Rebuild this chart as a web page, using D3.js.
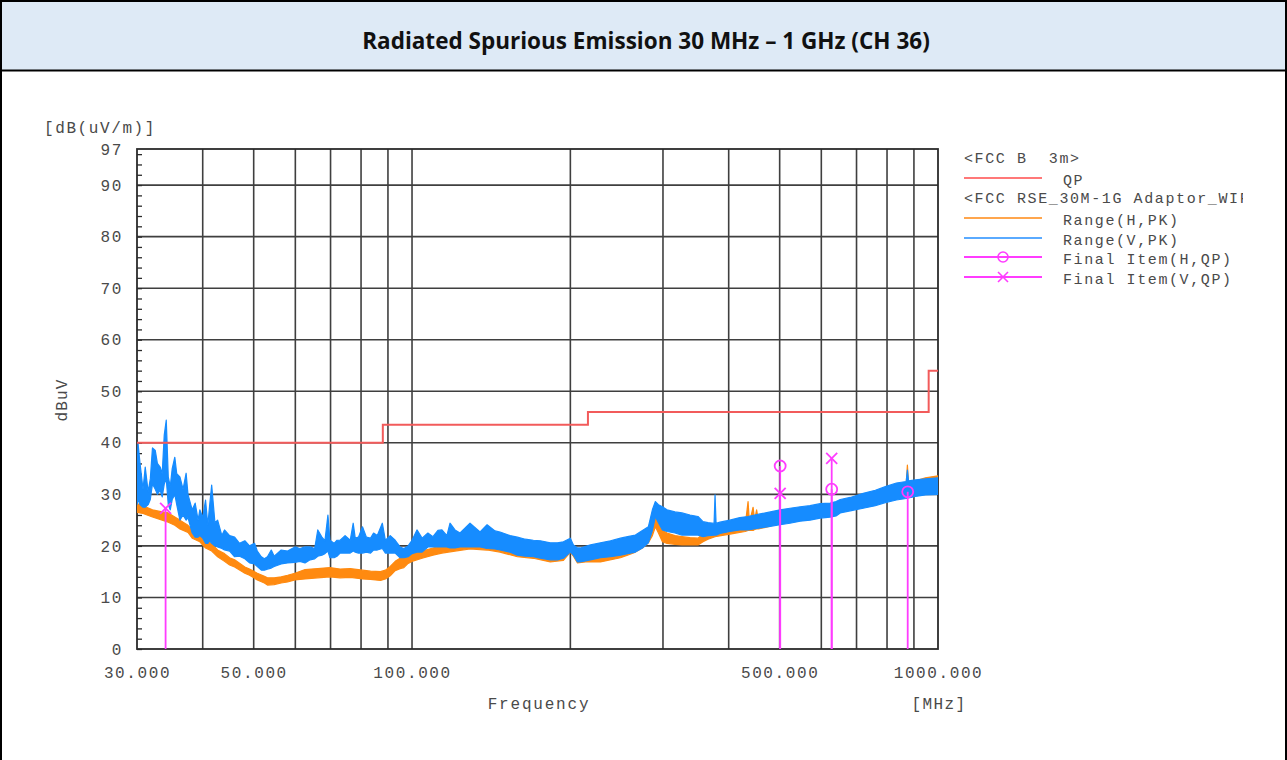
<!DOCTYPE html>
<html><head><meta charset="utf-8">
<script src="https://cdn.jsdelivr.net/npm/d3@7"></script>
<style>
body{margin:0;background:#fff}
svg text{white-space:pre}
</style>
</head><body>
<svg id="c" width="1287" height="760"></svg>
<script>
// ---------------- DATA ----------------
const titleText = "Radiated Spurious Emission 30 MHz \u2013 1 GHz (CH 36)";
const yMajorTicks = [0,10,20,30,40,50,60,70,80,90,97];
const xGridFreq = [40,50,60,70,80,90,100,200,300,400,500,600,700,800,900];
const xTickLabels = [30,50,100,500,1000];

// FCC B 3m QP limit (step)
const limitFreq = [30, 88, 216, 960, 1000];
const limitQP   = [40, 43.5, 46, 54, 54];

// Range(H,PK) - orange trace, band low/high
const hFreq = [30,30.8,32.1,33.5,34.4,35.4,36.2,37.5,38.2,39.5,40.5,41.6,42.7,44.0,45.0,46.0,48.1,49.1,50.8,52.4,53.1,54.7,56.4,58.0,59.9,62.6,66.2,69.8,73.0,76.3,80.5,83.4,87.1,89.0,90.9,92.9,94.9,96.5,98.3,100,104.5,109.6,114,120.7,128.9,138.9,147,158.6,170.1,183.2,194,200,202.7,206.3,213.7,228.2,249.1,256.9,265.9,274.2,281.4,286.4,290.2,294.1,299.3,305.3,316.2,326,337.7,349.7,357.5,365.4,376.8,402.4,430,435.4,438,445.1,448,452,456,470,501.1,547,597,624,651.9,720.8,794,870,874.6,879,946.5,1000];
const hLo = [26.5,26.3,25.6,25.0,24.6,24.0,23.3,22.6,21.5,20.8,19.6,19.0,17.9,17.0,16.3,15.9,14.7,14.3,13.4,12.8,12.4,12.5,12.8,13.0,13.4,13.6,13.8,14.0,13.8,13.9,13.6,13.5,13.3,13.6,14.2,15.2,15.6,15.8,16.6,17.0,17.6,18.2,18.6,19.0,19.4,19.2,18.8,17.9,17.6,16.9,17.2,18.8,18.0,16.7,16.9,16.9,17.7,18.2,18.8,19.6,20.6,22.0,23.7,22.5,20.8,20.5,20.3,20.2,20.2,20.2,20.8,21.3,21.8,22.3,22.8,23.0,23.0,23.0,23.2,23.3,23.3,23.6,24.4,25.0,25.6,26.2,27.0,28.0,29.0,29.8,30.0,30.0,30.8,31.0];
const hHi = [28.2,27.8,27.0,26.6,26.4,25.6,25.0,24.0,23.1,22.3,21.1,20.4,19.2,18.5,17.7,17.3,15.9,15.5,14.7,14.1,13.8,13.8,14.0,14.3,14.7,15.4,15.6,15.8,15.5,15.6,15.3,15.1,15.0,15.3,16.0,17.0,17.6,18.6,18.3,18.6,19.0,19.6,20.0,20.4,20.6,20.4,20.2,19.2,18.8,18.2,18.6,19.8,19.2,18.2,18.2,18.2,18.8,19.6,20.2,21.2,23.1,24.8,26.4,25.0,23.1,22.5,22.0,21.8,21.6,21.5,22.3,22.8,22.8,23.6,24.0,28.6,24.5,27.5,25.0,27.0,24.6,25.2,26.4,27.0,27.6,28.0,28.6,30.0,31.0,32.0,35.7,32.2,33.2,33.6];

// Range(V,PK) - blue trace, band low/high
const vFreq = [30,30.13,30.4,30.8,31.1,31.5,31.8,32.1,32.5,32.8,33.2,33.5,33.8,34.1,34.4,34.7,35.0,35.4,35.7,36.2,36.7,37.2,37.5,38.2,38.7,39.2,39.5,40.0,40.5,40.9,41.2,41.6,42.2,42.7,43.5,44.0,45.0,46.0,47.0,48.1,49.1,50.2,50.8,51.7,52.4,53.1,54.0,54.7,56.4,58.0,59.9,61.2,62.6,64.0,65.3,66.2,67.4,68.3,69.2,69.8,71.1,72.0,73.0,74.6,76.3,77.3,78.0,79.1,80.5,81.9,83.4,84.5,85.9,87.8,89.0,90.9,92.9,94.9,96.5,98.3,100,102.2,104.5,107.2,109.6,112,114,116.5,118.1,120.7,123.4,128.9,134.7,138.9,143.8,147,153.6,158.6,164.2,170.1,175.4,183.2,189,194,200,202.7,206.3,209,218.4,228.2,238.4,249.1,256.9,265.9,274.2,281.4,286.4,290.2,294.1,299.3,305.3,316.2,326,337.7,349.7,357.5,365.4,375.2,376.8,378.5,385,402,420,435,459,480,501,523,547,571,597,624,640,651.9,681,720.8,760,794,833.5,870,874.6,879,906,946.5,1000];
const vLo = [28.0,29.0,28.0,27.5,27.5,28.0,29.0,32.0,31.0,30.0,30.8,29.5,32.0,33.0,28.0,27.0,29.0,30.0,28.0,25.0,26.0,25.0,25.5,22.5,21.7,21.7,22.0,21.5,20.5,20.5,21.0,20.5,20.0,19.8,19.5,19.2,19.0,17.9,18.0,17.5,16.7,16.5,16.0,15.3,15.3,15.5,15.7,16.0,16.5,16.7,16.8,17.0,16.7,17.3,17.5,18.0,18.2,18.5,19.0,17.7,17.7,18.0,18.6,18.6,18.6,19.0,18.8,18.6,18.6,18.8,18.6,19.2,19.2,19.5,18.6,18.6,18.6,17.7,17.7,17.9,18.5,18.8,18.8,19.8,19.8,19.8,19.8,19.8,19.6,19.6,19.8,19.8,19.8,19.5,19.4,19.2,18.8,18.2,18.0,17.9,17.6,17.3,17.3,17.6,18.8,18.2,16.9,16.9,17.3,17.7,17.9,18.2,18.5,18.8,19.6,20.6,23.0,25.7,24.5,23.1,22.8,22.5,22.1,22.1,22.1,21.8,22.0,22.1,22.1,22.1,22.4,22.8,23.1,23.1,23.5,23.8,24.1,24.4,24.8,25.0,25.4,25.6,25.8,26.4,26.8,27.3,27.8,28.4,28.9,29.2,29.3,29.3,29.6,29.9,30.0];
const vHi = [34.0,40.0,36.0,31.0,35.3,30.5,33.0,39.0,38.5,36.0,35.3,34.0,41.5,44.4,33.4,31.5,35.0,37.2,34.0,33.4,31.0,34.1,30.0,27.0,28.3,25.0,27.0,25.5,28.9,24.0,27.5,31.8,24.5,25.0,22.0,23.1,22.0,21.7,20.5,21.0,20.0,20.5,19.0,17.9,17.5,17.9,19.2,18.0,19.2,19.0,19.8,19.5,19.8,19.8,19.5,23.1,21.7,21.0,26.0,21.1,20.5,21.1,21.1,22.0,21.1,24.4,21.5,21.7,23.7,21.7,21.5,22.5,22.0,24.4,21.1,22.0,21.1,19.8,19.5,20.0,21.1,23.1,21.5,22.5,21.8,23.0,23.1,22.0,24.4,23.1,22.5,24.4,22.7,24.1,22.9,22.7,22.0,21.7,21.3,21.1,21.0,20.6,20.6,20.8,21.5,20.2,19.6,19.6,20.2,20.6,21.0,21.5,21.8,22.1,23.0,23.7,27.0,28.6,28.0,27.6,27.0,26.6,26.4,26.0,25.7,24.7,24.5,24.4,29.9,24.4,24.6,25.0,25.5,25.7,26.2,26.6,27.0,27.3,27.6,27.8,28.2,28.3,28.6,29.0,29.4,30.2,30.8,31.5,32.2,32.5,34.7,32.6,32.8,33.0,33.2];

// Final items
const hQPFreq = [501.1, 627.9, 875.8];
const hQPVal  = [35.5, 31.0, 30.5];
const vQPFreq = [34.0, 501.1, 627.9];
const vQPVal  = [27.3, 30.2, 37.0];

// Legend
const legendHeader1 = "<FCC B  3m>";
const legendHeader2 = "<FCC RSE_30M-1G Adaptor_WIFI>";
const legendItems = ["QP","Range(H,PK)","Range(V,PK)","Final Item(H,QP)","Final Item(V,QP)"];

// ---------------- DRAW ----------------
const W = 1287, H = 760;
const svg = d3.select("#c");
const C = {red:"#f25b5b", orange:"#ff8a10", blue:"#168cff", mag:"#ff3cff", grid:"#2b2b2b", text:"#4a4a4a"};

// header
svg.append("rect").attr("x",0).attr("y",0).attr("width",W).attr("height",71).attr("fill","#deeaf6");
const title = svg.append("text").attr("x",646).attr("y",43).attr("text-anchor","middle")
  .attr("dominant-baseline","middle").attr("font-family","'Open Sans','Liberation Sans',sans-serif")
  .attr("font-weight","700").attr("font-size",18).attr("fill","#111").text(titleText);
const tl = title.node().getComputedTextLength();
title.attr("font-size", (18*568/tl).toFixed(2));
const border = svg.append("g").attr("stroke","#000");
border.append("line").attr("x1",0).attr("x2",W).attr("y1",1).attr("y2",1).attr("stroke-width",2);
border.append("line").attr("x1",0).attr("x2",W).attr("y1",70.5).attr("y2",70.5).attr("stroke-width",2);
border.append("line").attr("x1",1).attr("x2",1).attr("y1",0).attr("y2",H).attr("stroke-width",2);
border.append("line").attr("x1",W-1).attr("x2",W-1).attr("y1",0).attr("y2",H).attr("stroke-width",2);

// scales
const x = d3.scaleLog().domain([30,1000]).range([137,938]);
const y = d3.scaleLinear().domain([0,97]).range([649,149]);

// grid
const grid = svg.append("g").attr("stroke",C.grid).attr("stroke-width",1.6).attr("opacity",0.9);
grid.selectAll("line.v").data(xGridFreq).join("line").attr("class","v")
  .attr("x1",d=>x(d)).attr("x2",d=>x(d)).attr("y1",y(97)).attr("y2",y(0));
grid.selectAll("line.h").data(yMajorTicks.filter(d=>d>0&&d<97)).join("line").attr("class","h")
  .attr("x1",x(30)).attr("x2",x(1000)).attr("y1",d=>y(d)).attr("y2",d=>y(d));

// minor ticks on left axis (every 2 dB)
const minorAxis = d3.axisRight(y).tickValues(d3.range(0,97,2)).tickSize(5).tickFormat("");
const mg = svg.append("g").attr("transform",`translate(${x(30)},0)`).call(minorAxis);
mg.select(".domain").remove();
mg.selectAll("line").attr("stroke",C.grid).attr("stroke-width",1.3);

// frame
svg.append("rect").attr("x",x(30)).attr("y",y(97)).attr("width",x(1000)-x(30)).attr("height",y(0)-y(97))
  .attr("fill","none").attr("stroke",C.grid).attr("stroke-width",1.8);

// y axis labels
const ya = svg.append("g").attr("transform",`translate(${x(30)},0)`)
  .call(d3.axisLeft(y).tickValues(yMajorTicks).tickSize(0).tickPadding(14));
ya.select(".domain").remove();
ya.selectAll("text").attr("font-size",16).attr("fill",C.text).attr("letter-spacing",1.6)
  .attr("font-family","'Liberation Mono',monospace");

// x axis labels
const xa = svg.append("g").attr("transform",`translate(0,${y(0)})`)
  .call(d3.axisBottom(x).tickValues(xTickLabels).tickSize(0).tickPadding(18).tickFormat(d3.format(".3f")));
xa.select(".domain").remove();
xa.selectAll("text").attr("font-size",16).attr("fill",C.text).attr("letter-spacing",1.6)
  .attr("font-family","'Liberation Mono',monospace");

// axis titles
const mono = (sel)=>sel.attr("font-family","'Liberation Mono',monospace").attr("fill",C.text);
mono(svg.append("text").attr("x",44).attr("y",133).attr("font-size",16).attr("letter-spacing",1.6).text("[dB(uV/m)]"));
mono(svg.append("text").attr("transform","translate(67,400) rotate(-90)").attr("text-anchor","middle")
  .attr("font-size",16).attr("letter-spacing",1.2).text("dBuV"));
mono(svg.append("text").attr("x",539).attr("y",709).attr("text-anchor","middle").attr("font-size",16)
  .attr("letter-spacing",1.8).text("Frequency"));
mono(svg.append("text").attr("x",939).attr("y",709).attr("text-anchor","middle").attr("font-size",16)
  .attr("letter-spacing",1.4).text("[MHz]"));

// clip for data
svg.append("clipPath").attr("id","plotclip").append("rect")
  .attr("x",x(30)).attr("y",y(97)).attr("width",x(1000)-x(30)).attr("height",y(0)-y(97));
const plot = svg.append("g").attr("clip-path","url(#plotclip)");

// traces as bands
const band = d3.area().x(d=>x(d.f)).y0(d=>y(d.lo)).y1(d=>y(d.hi));
const hData = hFreq.map((f,i)=>({f, lo:hLo[i], hi:hHi[i]}));
const vData = vFreq.map((f,i)=>({f, lo:vLo[i], hi:vHi[i]}));
plot.append("path").datum(hData).attr("d",band).attr("fill",C.orange).attr("stroke",C.orange)
  .attr("stroke-width",1.2).attr("stroke-linejoin","round");
plot.append("path").datum(vData).attr("d",band).attr("fill",C.blue).attr("stroke",C.blue)
  .attr("stroke-width",1.2).attr("stroke-linejoin","round");

// limit line
const limData = limitFreq.map((f,i)=>({f, v:limitQP[i]}));
plot.append("path").datum(limData)
  .attr("d", d3.line().x(d=>x(d.f)).y(d=>y(d.v)).curve(d3.curveStepAfter))
  .attr("fill","none").attr("stroke",C.red).attr("stroke-width",2);

// final items: stems + markers
const hQP = hQPFreq.map((f,i)=>({f, v:hQPVal[i]}));
const vQP = vQPFreq.map((f,i)=>({f, v:vQPVal[i]}));
const stems = plot.append("g").attr("stroke",C.mag).attr("stroke-width",1.8);
stems.selectAll("line.h").data(hQP).join("line").attr("class","h")
  .attr("x1",d=>x(d.f)).attr("x2",d=>x(d.f)).attr("y1",d=>y(d.v)).attr("y2",y(0));
stems.selectAll("line.v").data(vQP).join("line").attr("class","v")
  .attr("x1",d=>x(d.f)).attr("x2",d=>x(d.f)).attr("y1",d=>y(d.v)).attr("y2",y(0));
svg.append("g").selectAll("circle").data(hQP).join("circle")
  .attr("cx",d=>x(d.f)).attr("cy",d=>y(d.v)).attr("r",5.5)
  .attr("fill","none").attr("stroke",C.mag).attr("stroke-width",1.8);
const xMark = (g, cx, cy, s)=>{
  g.append("line").attr("x1",cx-s).attr("x2",cx+s).attr("y1",cy-s).attr("y2",cy+s);
  g.append("line").attr("x1",cx-s).attr("x2",cx+s).attr("y1",cy+s).attr("y2",cy-s);
};
const xg = svg.append("g").attr("stroke",C.mag).attr("stroke-width",1.8);
vQP.forEach(d=>xMark(xg, x(d.f), y(d.v), 5.5));

// legend
svg.append("clipPath").attr("id","legclip").append("rect").attr("x",950).attr("y",140).attr("width",293).attr("height",160);
const lg = svg.append("g").attr("clip-path","url(#legclip)");
const lt = (xx,yy,t)=>lg.append("text").attr("x",xx).attr("y",yy).attr("dominant-baseline","middle")
  .attr("font-family","'Liberation Mono',monospace").attr("font-size",15).attr("letter-spacing",1.6)
  .attr("fill",C.text).attr("xml:space","preserve").text(t);
lt(964,159,legendHeader1);
lt(964,199,legendHeader2);
const legY = [178,218,238,257,277];
const legCol = ["#ff7878","#ffa64d","#5aaaff",C.mag,C.mag];
legendItems.forEach((t,i)=>{
  lg.append("line").attr("x1",964).attr("x2",1042).attr("y1",legY[i]).attr("y2",legY[i])
    .attr("stroke",legCol[i]).attr("stroke-width",2);
  lt(1063, legY[i]+3, t);
});
lg.append("circle").attr("cx",1003).attr("cy",legY[3]).attr("r",5).attr("fill","none")
  .attr("stroke",C.mag).attr("stroke-width",1.6);
const lx = lg.append("g").attr("stroke",C.mag).attr("stroke-width",1.6);
xMark(lx,1003,legY[4],5);
</script>
</body></html>
